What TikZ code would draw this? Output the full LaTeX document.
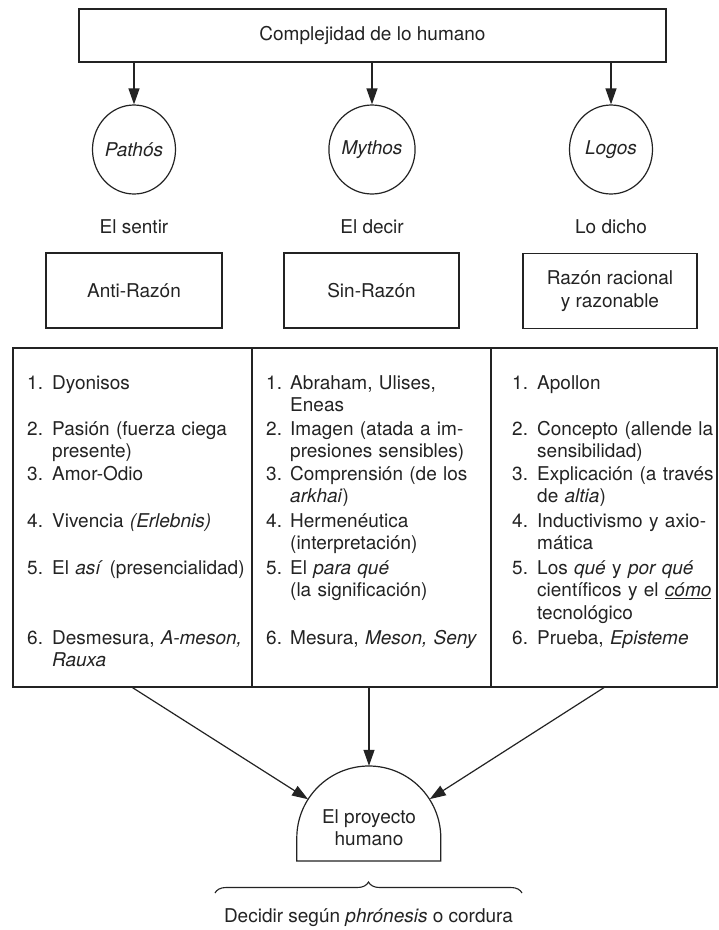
\documentclass[tikz,border=0pt]{standalone}
\usepackage{fontspec}
\setmainfont{TeX Gyre Heros}
\usepackage{tikz}
\usetikzlibrary{shapes.geometric, arrows.meta, positioning, calc, decorations.pathreplacing}
\definecolor{ink}{RGB}{35, 35, 35}

\begin{document}
\begin{tikzpicture}[x=1pt, y=-1pt,
    every node/.style={font=\fontsize{19}{22.5}\selectfont, text=ink},
    box/.style={draw=ink, line width=1.2pt, inner sep=0pt, align=center},
    circ/.style={draw=ink, ellipse, line width=1.2pt, minimum width=83pt,
                 minimum height=89pt, inner sep=0pt,
                 font=\fontsize{19}{22.5}\selectfont\itshape},
    col/.style={draw=ink, line width=1.2pt, minimum height=339pt, inner sep=0pt},
    num/.style={anchor=base west, inner sep=0pt},
    item/.style={anchor=base west, inner sep=0pt, text width=195pt, align=left},
    arr/.style={draw=ink, line width=1.2pt, -{Triangle[length=16pt, width=11pt]}}]

  \path[fill=white, use as bounding box] (0,0) rectangle (719,930);

  \node[box, minimum width=587pt, minimum height=53pt] (top) at (372.5,35.5)
    {Complejidad de lo humano};

  \node[circ] (pathos) at (134,149.5) {Pathós};
  \node[circ] (mythos) at (372,149.5) {Mythos};
  \node[circ] (logos)  at (611,149.5) {Logos};

  \draw[arr] (top.south -| pathos.north) -- (pathos);
  \draw[arr] (top.south -| mythos.north) -- (mythos);
  \draw[arr] (top.south -| logos.north) -- (logos);

  \node (sentir) at (134,227) {El sentir};
  \node (decir)  at (372,227) {El decir};
  \node (dicho)  at (611,227) {Lo dicho};

  \node[box, minimum width=176pt, minimum height=75pt] (antirazon) at (134,290.5) {Anti-Razón};
  \node[box, minimum width=175pt, minimum height=75pt] (sinrazon) at (371.5,290.5) {Sin-Razón};
  \node[box, minimum width=174pt, minimum height=75pt] (razon) at (610,291)
    {Razón racional\\y razonable};

  \node[col, minimum width=239pt] (c1) at (132.5,517.5) {};
  \node[col, minimum width=239pt] (c2) at (371.5,517.5) {};
  \node[col, minimum width=226pt] (c3) at (604,517.5) {};

  \foreach \n/\y/\t in {1/389/{Dyonisos},
      2/435/{Pasión (fuerza ciega\\presente)},
      3/480/{Amor-Odio},
      4/527/{Vivencia \textit{(Erlebnis)}},
      5/574/{El \textit{así} (presencialidad)},
      6/644/{Desmesura, \textit{A-meson,}\\\textit{Rauxa}}} {
    \node[num] (pn\n) at (27,\y) {\n.};
    \node[item] (pt\n) at (52,\y) {\t};
  }

  \foreach \n/\y/\t in {1/389/{Abraham, Ulises,\\Eneas},
      2/435/{Imagen (atada a im-\\presiones sensibles)},
      3/480/{Comprensión (de los\\\textit{arkhai})},
      4/527/{Hermenéutica\\(interpretación)},
      5/574/{El \textit{para qué}\\(la significación)},
      6/644/{Mesura, \textit{Meson, Seny}}} {
    \node[num] (mn\n) at (266,\y) {\n.};
    \node[item] (mt\n) at (290,\y) {\t};
  }

  \foreach \n/\y/\t in {1/389/{Apollon},
      2/435/{Concepto (allende la\\sensibilidad)},
      3/480/{Explicación (a través\\de \textit{altia})},
      4/527/{Inductivismo y axio-\\mática},
      5/574/{Los \textit{qué} y \textit{por qué}\\científicos y el \underline{\textit{cómo}}\\tecnológico},
      6/644/{Prueba, \textit{Episteme}}} {
    \node[num] (ln\n) at (512,\y) {\n.};
    \node[item] (lt\n) at (537,\y) {\t};
  }

  \node[circle, minimum size=144pt, inner sep=0pt] (proyecto) at (369,838) {};
  \draw[ink, line width=1.2pt] (proyecto.west) arc[start angle=180, end angle=0, radius=72pt]
    -- ++(0,23) -- ++(-144,0) -- cycle;
  \node[align=center] (proyectotxt) at (369,827.5) {El proyecto\\humano};

  \draw[arr] (c1.south) -- (proyecto);
  \draw[arr] (c2.south -| proyecto.north) -- (proyecto);
  \draw[arr] (c3.south) -- (proyecto);

  \coordinate (bl) at (215,893);
  \coordinate (br) at (522,893);
  \draw[ink, line width=1.1pt, decorate, decoration={brace, amplitude=11pt}] (bl) -- (br);
  \node (decidir) at (368.5,918) {Decidir según \textit{phrónesis} o cordura};
\end{tikzpicture}
\end{document}
